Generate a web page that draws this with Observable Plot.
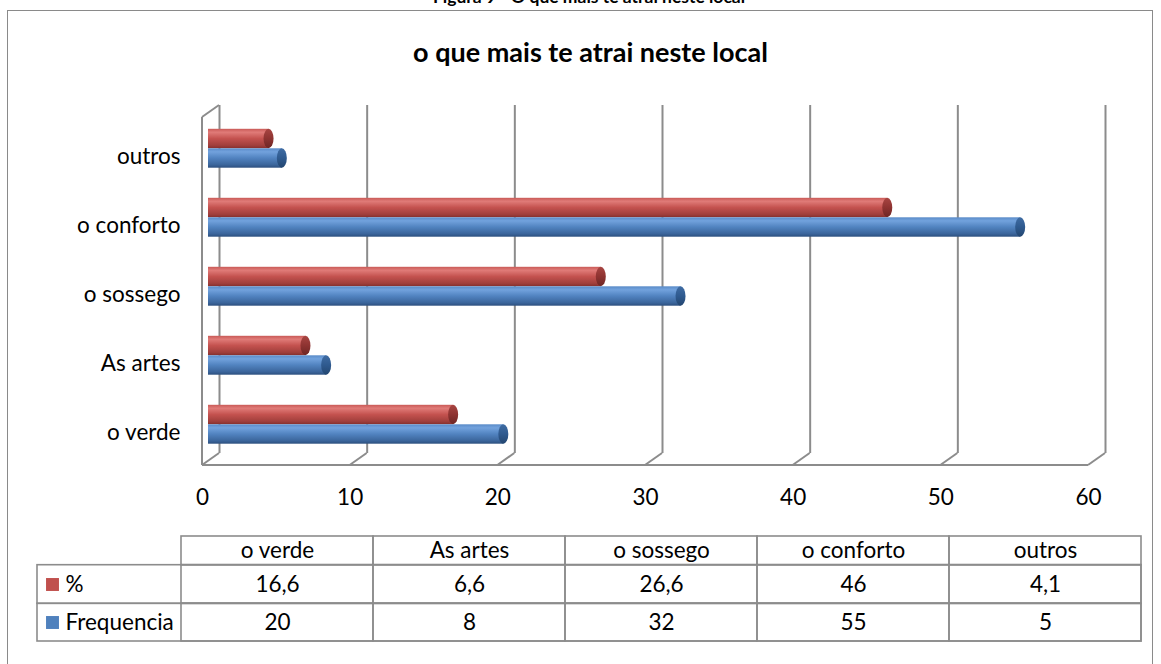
<!DOCTYPE html>
<html><head><meta charset="utf-8">
<script src="https://cdn.jsdelivr.net/npm/d3@7"></script>
<script src="https://cdn.jsdelivr.net/npm/@observablehq/plot@0.6"></script>
<style>
body{margin:0;background:#fff;font-family:Lato,sans-serif;}
#wrap{position:relative;width:1161px;height:664px;overflow:hidden;}
#wrap svg{position:absolute;left:0;top:0;}
.frame{position:absolute;left:7px;top:10px;width:1146px;height:700px;border:1.5px solid #8a8a8a;box-sizing:border-box;}
#caption{position:absolute;top:-13px;left:0;width:1178px;text-align:center;font-weight:bold;font-size:17.5px;line-height:20px;}
#title{position:absolute;top:36px;left:0;width:1181px;text-align:center;font-weight:bold;font-size:27px;line-height:32px;}
</style></head>
<body><div id="wrap"><div class="frame"></div></div>
<script>
const categories = ["o verde","As artes","o sossego","o conforto","outros"];
const percentValues = [16.6, 6.6, 26.6, 46, 4.1];
const freqValues = [20, 8, 32, 55, 5];
const percentLabels = ["16,6","6,6","26,6","46","4,1"];
const freqLabels = ["20","8","32","55","5"];
const seriesNames = ["%","Frequencia"];
const xTicks = [0,10,20,30,40,50,60];
const captionText = "Figura 9 - O que mais te atrai neste local";
const titleText = "o que mais te atrai neste local";

const GRID = "#8c8c8c";
const DX = 17, DY = -12;
const RED = "#C0504D", BLUE = "#4F81BD";
const FONT = "22.5px";

const pct = categories.map((c,i)=>({cat:c, v:percentValues[i]}));
const frq = categories.map((c,i)=>({cat:c, v:freqValues[i]}));

function defs(){
  const d = d3.create("svg:defs");
  const mk = (id, stops) => {
    const g = d.append("linearGradient").attr("id", id).attr("x1",0).attr("y1",0).attr("x2",0).attr("y2",1);
    stops.forEach(([o,c]) => g.append("stop").attr("offset", o).attr("stop-color", c));
  };
  mk("redBody", [[0,"#c95a57"],[0.18,"#e07b78"],[0.5,"#c4524f"],[0.85,"#a13f3c"],[1,"#85302e"]]);
  mk("blueBody", [[0,"#5a8bc8"],[0.18,"#72a2dd"],[0.5,"#5183c0"],[0.85,"#3b659b"],[1,"#2c4f7e"]]);
  mk("redCap", [[0,"#a84542"],[0.5,"#8e3331"],[1,"#6e2624"]]);
  mk("blueCap", [[0,"#3f6ca3"],[0.5,"#2f5a8f"],[1,"#234670"]]);
  return d.node();
}

function walls(index, scales, values, dims){
  const x = scales.x;
  const bot = dims.height - dims.marginBottom, top = dims.marginTop;
  const g = d3.create("svg:g").attr("fill","none").attr("stroke",GRID).attr("stroke-width",2);
  const line = (x1,y1,x2,y2) => g.append("line").attr("x1",x1).attr("y1",y1).attr("x2",x2).attr("y2",y2);
  line(x(0), bot, x(60), bot);
  for (const t of xTicks) line(x(t), bot, x(t)+DX, bot+DY);
  line(x(0), bot, x(0), top);
  line(x(0), top, x(0)+DX, top+DY);
  return g.node();
}

const BAR_DX = 6, RED_DY = -18, BLUE_DY = 1.5, INSET = 24.8;

const chart = Plot.plot({
  width: 1161, height: 664,
  marginLeft: 202, marginRight: 73, marginTop: 117, marginBottom: 199,
  style: {background:"transparent", fontFamily:"Lato, sans-serif", fontSize:FONT, color:"#000"},
  x: {domain:[0,60], ticks: xTicks, tickSize:0, tickPadding:24, label:null, tickFormat: d=>String(d)},
  y: {type:"band", domain: categories.slice().reverse(), range:[121.5,466.5], padding:0, tickSize:0, tickPadding:22, label:null},
  marks: [
    defs,
    Plot.ruleX(xTicks, {x: d=>d, dx: DX, dy: DY, stroke: GRID, strokeWidth: 2}),
    walls,
    Plot.barX(pct, {x1: 0, x2: "v", y: "cat", dx: BAR_DX, dy: RED_DY, insetTop: INSET, insetBottom: INSET, fill: "url(#redBody)"}),
    Plot.barX(pct, {x1: "v", x2: "v", y: "cat", dx: BAR_DX, dy: RED_DY, insetTop: INSET, insetBottom: INSET, insetLeft: -5, insetRight: -5, rx: 5, ry: 10, fill: "url(#redCap)"}),
    Plot.barX(frq, {x1: 0, x2: "v", y: "cat", dx: BAR_DX, dy: BLUE_DY, insetTop: INSET, insetBottom: INSET, fill: "url(#blueBody)"}),
    Plot.barX(frq, {x1: "v", x2: "v", y: "cat", dx: BAR_DX, dy: BLUE_DY, insetTop: INSET, insetBottom: INSET, insetLeft: -5, insetRight: -5, rx: 5, ry: 10, fill: "url(#blueCap)"})
  ]
});

const cells = [];
categories.forEach((c,i)=>{
  cells.push({row:"hdr", cat:c, text:c});
  cells.push({row:"%", cat:c, text:percentLabels[i]});
  cells.push({row:"Frequencia", cat:c, text:freqLabels[i]});
});
const rowOf = r => cells.filter(d => d.row === r);
const cellStyle = {x:"cat", y:"row", fill:"none", stroke:GRID, strokeWidth:1.6};
const textStyle = {x:"cat", y:"row", text:"text", fill:"#000"};

const table = Plot.plot({
  width: 1161, height: 664,
  marginLeft: 37, marginRight: 20, marginTop: 535, marginBottom: 23,
  style: {background:"transparent", fontFamily:"Lato, sans-serif", fontSize:FONT, color:"#000"},
  x: {type:"band", domain: categories, range:[180,1141], padding:0, axis:null},
  y: {type:"band", domain: ["hdr", ...seriesNames], padding:0, axis:null},
  marks: [
    Plot.cell(["%"], {y: d=>d, fill:"none", stroke:GRID, strokeWidth:1.6, insetTop:-6.3, insetBottom:2.7}),
    Plot.cell(["Frequencia"], {y: d=>d, fill:"none", stroke:GRID, strokeWidth:1.6, insetTop:-2.7}),
    Plot.cell(rowOf("hdr"), {...cellStyle, insetBottom:6.3}),
    Plot.cell(rowOf("%"), {...cellStyle, insetTop:-6.3, insetBottom:2.7}),
    Plot.cell(rowOf("Frequencia"), {...cellStyle, insetTop:-2.7}),
    Plot.text(rowOf("hdr"), {...textStyle, dy:-3.5}),
    Plot.text(rowOf("%"), {...textStyle, dy:-4.5}),
    Plot.text(rowOf("Frequencia"), {...textStyle, dy:-1.5}),
    Plot.dot(["%"], {y: d=>d, frameAnchor:"left", dx:15, dy:-4.5, symbol:"square", r:7.3, fill:RED, stroke:"none"}),
    Plot.dot(["Frequencia"], {y: d=>d, frameAnchor:"left", dx:15, dy:-1.5, symbol:"square", r:7.3, fill:BLUE, stroke:"none"}),
    Plot.text(["%"], {y: d=>d, frameAnchor:"left", dx:28, dy:-4.5, textAnchor:"start", text: d=>d, fill:"#000"}),
    Plot.text(["Frequencia"], {y: d=>d, frameAnchor:"left", dx:28, dy:-1.5, textAnchor:"start", text: d=>d, fill:"#000"})
  ]
});

const wrap = document.getElementById("wrap");
wrap.appendChild(chart);
wrap.appendChild(table);
const cap = document.createElement("div"); cap.id = "caption"; cap.textContent = captionText; wrap.appendChild(cap);
const tt = document.createElement("div"); tt.id = "title"; tt.textContent = titleText; wrap.appendChild(tt);
</script>
</body></html>
